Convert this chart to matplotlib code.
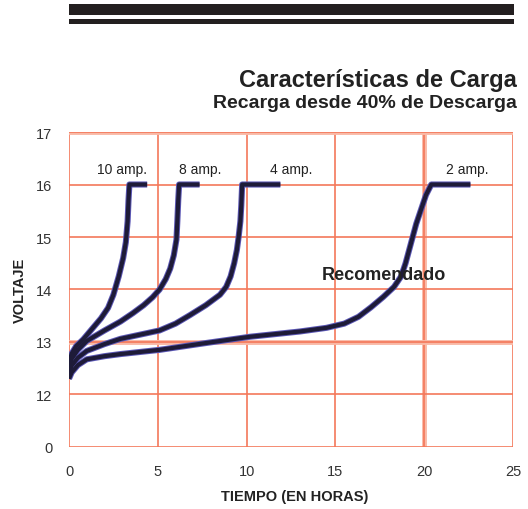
import matplotlib
matplotlib.use("Agg")
import matplotlib.pyplot as plt

# charge curves (hours, volts); the y axis is broken below 12
x_10a = [0, 0.15, 0.4, 0.8, 1.3, 1.8, 2.2, 2.5, 2.8, 3.05, 3.2, 3.3, 3.35, 3.4, 4.4]
y_10a = [12.6, 12.78, 12.92, 13.05, 13.25, 13.45, 13.65, 13.9, 14.25, 14.6, 14.9, 15.3, 15.7, 16.0, 16.0]

x_8a = [0, 0.15, 0.5, 1.0, 2.0, 2.9, 3.6, 4.2, 4.7, 5.1, 5.45, 5.7, 5.9, 6.05, 6.1, 6.15, 6.2, 7.35]
y_8a = [12.5, 12.68, 12.85, 13.02, 13.22, 13.39, 13.55, 13.7, 13.85, 14.0, 14.2, 14.4, 14.65, 14.95, 15.3, 15.7, 16.0, 16.0]

x_4a = [0, 0.15, 0.5, 1.0, 2.0, 2.9, 4.0, 5.1, 6.0, 6.8, 7.7, 8.5, 8.85, 9.1, 9.3, 9.45, 9.55, 9.65, 9.7, 9.75, 11.9]
y_4a = [12.4, 12.55, 12.7, 12.83, 12.96, 13.06, 13.14, 13.22, 13.35, 13.51, 13.7, 13.9, 14.05, 14.25, 14.5, 14.75, 15.0, 15.3, 15.6, 16.0, 16.0]

x_2a = [0, 0.15, 0.5, 1.0, 2.0, 2.9, 5.1, 7.5, 10.2, 13.0, 14.5, 15.5, 16.3, 17.0, 17.7, 18.3,
        18.7, 18.95, 19.15, 19.35, 19.55, 19.8, 20.1, 20.4, 22.6]
y_2a = [12.3, 12.42, 12.56, 12.67, 12.73, 12.77, 12.85, 12.97, 13.1, 13.2, 13.27, 13.35, 13.48, 13.66, 13.86, 14.05,
        14.25, 14.5, 14.75, 15.0, 15.25, 15.5, 15.8, 16.0, 16.0]

curves = [(x_10a, y_10a, "10 amp.", 3.0),
          (x_8a, y_8a, "8 amp.", 7.4),
          (x_4a, y_4a, "4 amp.", 12.5),
          (x_2a, y_2a, "2 amp.", 22.4)]

x_ticks = [0, 5, 10, 15, 20, 25]
y_ticks = [11, 12, 13, 14, 15, 16, 17]
y_labels = ["0", "12", "13", "14", "15", "16", "17"]

grid_col = "#f4785a"
fnt = "Liberation Sans"

fig = plt.figure(figsize=(5.28, 5.10), dpi=100)
ax = fig.add_axes([0.1307, 0.1216, 0.8409, 0.6176])

for xv in x_ticks:
    if xv == 20:
        ax.axvline(xv, color="#f9b9a6", lw=3.5, zorder=1)
    ax.axvline(xv, color=grid_col, lw=1.2, zorder=1)
for yv in y_ticks:
    if yv in (13, 17):
        ax.axhline(yv, color="#f9b9a6", lw=3.5, zorder=1)
    ax.axhline(yv, color=grid_col, lw=1.2, zorder=1)

for xs, ys, lab, lx in curves:
    ax.plot(xs, ys, color="#5b57b5", lw=4.4, solid_capstyle="butt", solid_joinstyle="round", zorder=3)
    ax.plot(xs, ys, color="#1e1b38", lw=3.0, solid_capstyle="butt", solid_joinstyle="round", zorder=4)
    ax.text(lx, 16.3, lab, ha="center", va="center", fontsize=10, family=fnt, color="#222222", zorder=5)

ax.text(17.75, 14.28, "Recomendado", ha="center", va="center", fontsize=13, family=fnt,
        weight="bold", color="#222222", zorder=5)

ax.set_xlim(0, 25)
ax.set_ylim(11, 17)
ax.set_xticks(x_ticks)
ax.set_yticks(y_ticks)
ax.set_yticklabels(y_labels)
ax.tick_params(length=0, labelsize=10.5, colors="#333333", pad=12)
for lbl in ax.get_xticklabels() + ax.get_yticklabels():
    lbl.set_family(fnt)
for s in ax.spines.values():
    s.set_visible(False)

fig.text(0.5587, 0.025, "TIEMPO (EN HORAS)", ha="center", va="center", fontsize=10.5,
         family=fnt, weight="bold", color="#222222")
fig.text(0.038, 0.43, "VOLTAJE", ha="center", va="center", rotation=90, fontsize=10.5,
         family=fnt, weight="bold", color="#222222")

fig.text(0.979, 0.843, "Características de Carga", ha="right", va="center", fontsize=17,
         family=fnt, weight="bold", color="#222222")
fig.text(0.979, 0.798, "Recarga desde 40% de Descarga", ha="right", va="center", fontsize=14,
         family=fnt, weight="bold", color="#222222")

# header bars
fig.add_artist(plt.Rectangle((0.1307, 0.969), 0.843, 0.022, transform=fig.transFigure,
                             color="#231f20", lw=0))
fig.add_artist(plt.Rectangle((0.1307, 0.951), 0.843, 0.009, transform=fig.transFigure,
                             color="#231f20", lw=0))

fig.savefig("out.png", dpi=100)
